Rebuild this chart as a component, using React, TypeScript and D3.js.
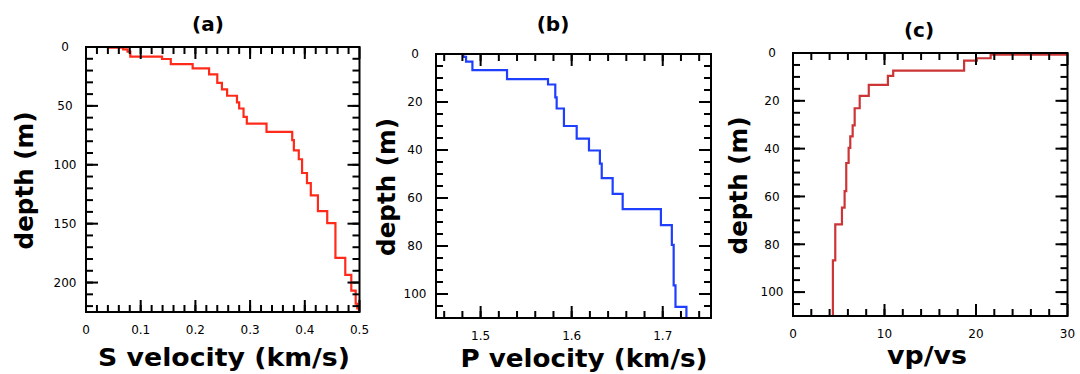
import React from "react";
import * as d3 from "d3";

// layer tops (m) and values
const vsDepths = [0, 0.5, 2, 4, 8.2, 10.2, 14.5, 18.2, 23.3, 30.4, 36, 41.4, 47.1, 52.2, 59.3, 65, 72, 79.1, 87.7, 95.3, 107, 115.5, 126, 139.3, 149.5, 179, 193.4, 206.8, 218, 222];
const vsValues = [0.041, 0.068, 0.076, 0.081, 0.139, 0.155, 0.195, 0.225, 0.24, 0.2485, 0.258, 0.276, 0.28, 0.288, 0.294, 0.33, 0.377, 0.38, 0.389, 0.395, 0.404, 0.411, 0.424, 0.441, 0.456, 0.474, 0.485, 0.493, 0.496, 0.499];

const vpDepths = [0, 1.2, 3.2, 6.7, 10.5, 12.7, 18.1, 22.7, 30, 35.3, 40.2, 45.7, 51.7, 58.3, 64.6, 71.3, 79.5, 96.4, 105.4];
const vpValues = [1.481, 1.484, 1.491, 1.529, 1.574, 1.582, 1.5835, 1.5915, 1.6055, 1.619, 1.631, 1.633, 1.645, 1.656, 1.698, 1.71, 1.712, 1.714, 1.726];

const ratioDepths = [0, 0.7, 2.2, 3.2, 7.4, 9.6, 13.3, 17.9, 23.1, 30.3, 34.9, 39.7, 46, 57.8, 64.7, 71.7, 86.7];
const ratioValues = [36, 21.6, 20.1, 18.7, 10.95, 10.37, 8.28, 7.29, 6.74, 6.52, 6.26, 6.08, 5.82, 5.64, 5.35, 4.62, 4.36];

const vsTicks = [0, 0.1, 0.2, 0.3, 0.4, 0.5];
const vpTicks = [1.5, 1.6, 1.7];
const ratioTicks = [0, 10, 20, 30];
const depthTicksA = [0, 50, 100, 150, 200];
const depthTicksB = [0, 20, 40, 60, 80, 100];

const FONT = "DejaVu Sans, Verdana, sans-serif";

type PanelProps = {
  id: string;
  box: { left: number; right: number; top: number; bottom: number };
  xDomain: [number, number];
  yMax: number;
  depths: number[];
  values: number[];
  color: string;
  xTicks: number[];
  xMinor: number[];
  yTicks: number[];
  yMinor: number[];
  xFmt: (v: number) => string;
  title: string;
  titleX: number;
  titleY: number;
  xLabel: string;
  xLabelX: number;
  xLabelY: number;
  xLabelLen: number;
  yLabelX: number;
};

function Panel(p: PanelProps) {
  const { left, right, top, bottom } = p.box;
  const x = d3.scaleLinear().domain(p.xDomain).range([left, right]);
  const y = d3.scaleLinear().domain([0, p.yMax]).range([top, bottom]);

  const pts: [number, number][] = p.depths.map((d, i) => [p.values[i], d]);
  pts.push([p.values[p.values.length - 1], p.yMax]);
  const line = d3
    .line<[number, number]>()
    .x((d) => x(d[0]))
    .y((d) => y(d[1]))
    .curve(d3.curveStepBefore);

  const major = 12;
  const minor = 7;
  const tick = { stroke: "#000", strokeWidth: 2 };

  return (
    <g>
      <defs>
        <clipPath id={"clip-" + p.id}>
          <rect x={left} y={top} width={right - left} height={bottom - top} />
        </clipPath>
      </defs>
      <path
        d={line(pts) || ""}
        fill="none"
        stroke={p.color}
        strokeWidth={2.2}
        clipPath={`url(#clip-${p.id})`}
      />
      {p.xMinor.map((v) => (
        <g key={"xm" + v}>
          <line x1={x(v)} x2={x(v)} y1={bottom} y2={bottom - minor} {...tick} />
          <line x1={x(v)} x2={x(v)} y1={top} y2={top + minor} {...tick} />
        </g>
      ))}
      {p.xTicks.map((v) => (
        <g key={"xt" + v}>
          <line x1={x(v)} x2={x(v)} y1={bottom} y2={bottom - major} {...tick} />
          <line x1={x(v)} x2={x(v)} y1={top} y2={top + major} {...tick} />
          <text x={x(v)} y={bottom + 22} textAnchor="middle" fontSize={12} fontFamily={FONT}>
            {p.xFmt(v)}
          </text>
        </g>
      ))}
      {p.yMinor.map((v) => (
        <g key={"ym" + v}>
          <line x1={left} x2={left + minor} y1={y(v)} y2={y(v)} {...tick} />
          <line x1={right} x2={right - minor} y1={y(v)} y2={y(v)} {...tick} />
        </g>
      ))}
      {p.yTicks.map((v) => (
        <g key={"yt" + v}>
          <line x1={left} x2={left + major} y1={y(v)} y2={y(v)} {...tick} />
          <line x1={right} x2={right - major} y1={y(v)} y2={y(v)} {...tick} />
          <text
            x={left - 21}
            y={y(v)}
            dy="0.36em"
            textAnchor="middle"
            fontSize={12}
            fontFamily={FONT}
          >
            {v}
          </text>
        </g>
      ))}
      <rect
        x={left}
        y={top}
        width={right - left}
        height={bottom - top}
        fill="none"
        stroke="#000"
        strokeWidth={2}
      />
      <text
        x={p.titleX}
        y={p.titleY}
        textAnchor="middle"
        fontSize={20}
        fontWeight="bold"
        fontFamily={FONT}
      >
        {p.title}
      </text>
      <text
        x={p.xLabelX}
        y={p.xLabelY}
        textAnchor="middle"
        fontSize={24}
        fontWeight="bold"
        fontFamily={FONT}
        textLength={p.xLabelLen}
        lengthAdjust="spacingAndGlyphs"
      >
        {p.xLabel}
      </text>
      <text
        transform={`translate(${p.yLabelX},${(top + bottom) / 2 + 1}) rotate(-90)`}
        textAnchor="middle"
        fontSize={25}
        fontWeight="bold"
        fontFamily={FONT}
        textLength={138}
        lengthAdjust="spacingAndGlyphs"
      >
        depth (m)
      </text>
    </g>
  );
}

export default function App() {
  return (
    <svg
      width={1080}
      height={374}
      style={{ position: "absolute", left: 0, top: 0, background: "#fff" }}
    >
      <Panel
        id="a"
        box={{ left: 86, right: 359.5, top: 47, bottom: 312 }}
        xDomain={[0, 0.5]}
        yMax={225}
        depths={vsDepths}
        values={vsValues}
        color="#ff2a1a"
        xTicks={vsTicks}
        xMinor={d3.range(0.02, 0.5, 0.02)}
        yTicks={depthTicksA}
        yMinor={d3.range(10, 225, 10)}
        xFmt={(v) => String(v)}
        title="(a)"
        titleX={208}
        titleY={31}
        xLabel="S velocity (km/s)"
        xLabelX={224}
        xLabelY={366}
        xLabelLen={252}
        yLabelX={33}
      />
      <Panel
        id="b"
        box={{ left: 436, right: 711, top: 54, bottom: 318 }}
        xDomain={[1.451, 1.753]}
        yMax={110}
        depths={vpDepths}
        values={vpValues}
        color="#1f3fff"
        xTicks={vpTicks}
        xMinor={d3.range(1.46, 1.75, 0.02)}
        yTicks={depthTicksB}
        yMinor={d3.range(5, 110, 5)}
        xFmt={(v) => v.toFixed(1)}
        title="(b)"
        titleX={553}
        titleY={31}
        xLabel="P velocity (km/s)"
        xLabelX={584}
        xLabelY={367}
        xLabelLen={247}
        yLabelX={395}
      />
      <Panel
        id="c"
        box={{ left: 793, right: 1067.5, top: 53, bottom: 316 }}
        xDomain={[0, 30]}
        yMax={110}
        depths={ratioDepths}
        values={ratioValues}
        color="#cc3535"
        xTicks={ratioTicks}
        xMinor={d3.range(2, 30, 2)}
        yTicks={depthTicksB}
        yMinor={d3.range(5, 110, 5)}
        xFmt={(v) => String(v)}
        title="(c)"
        titleX={919}
        titleY={37}
        xLabel="vp/vs"
        xLabelX={927}
        xLabelY={364}
        xLabelLen={80}
        yLabelX={747}
      />
    </svg>
  );
}
